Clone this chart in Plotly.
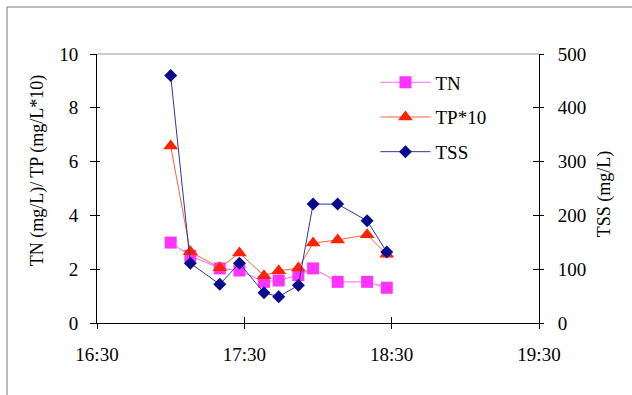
import plotly.graph_objects as go

# Sampling times and measured concentrations
times = ["17:00", "17:08", "17:20", "17:28", "17:38", "17:44",
         "17:52", "17:58", "18:08", "18:20", "18:28"]
tn = [2.99, 2.50, 2.03, 1.95, 1.53, 1.58, 1.78, 2.03, 1.53, 1.53, 1.31]
tp10 = [6.58, 2.65, 2.05, 2.60, 1.76, 1.94, 2.04, 2.97, 3.09, 3.28, 2.56]
tss = [460, 111, 72, 111, 56, 49, 70, 221, 221, 190, 132]

day = "2024-01-01 "
x = [day + t for t in times]
x_range = [day + "16:30", day + "19:30"]
hour_ms = 3600000

FONT = "Liberation Serif, Times New Roman, serif"
fs = 18
fs_tick = 19

fig = go.Figure()
fig.add_trace(go.Scatter(
    x=x, y=tn, name="TN", mode="lines+markers", legendgroup="a",
    line=dict(color="#FF66FF", width=1),
    marker=dict(symbol="square", size=12, color="#FF33FF"),
))
fig.add_trace(go.Scatter(
    x=x, y=tp10, name="TP*10", mode="lines+markers", legendgroup="b",
    line=dict(color="#FF6040", width=1),
    marker=dict(symbol="triangle-up", size=13, color="#FF2200"),
))
fig.add_trace(go.Scatter(
    x=x, y=tss, name="TSS", mode="lines+markers", legendgroup="c",
    yaxis="y2",
    line=dict(color="#3333A0", width=1),
    marker=dict(symbol="diamond", size=10, color="#0A0A8C"),
))

tickfont = dict(family=FONT, size=fs_tick, color="black")
fig.update_layout(
    width=632, height=395,
    margin=dict(l=97, r=93, t=54, b=72),
    paper_bgcolor="white", plot_bgcolor="white",
    font=dict(family=FONT, size=fs, color="black"),
    showlegend=True,
    legend=dict(
        x=0.63, y=0.965, xanchor="left", yanchor="top",
        bgcolor="rgba(0,0,0,0)", font=dict(family=FONT, size=fs_tick),
        tracegroupgap=7, itemwidth=50, traceorder="grouped",
    ),
    xaxis=dict(
        type="date", range=x_range, dtick=hour_ms, tick0=day + "16:30",
        tickformat="%H:%M", showgrid=False, zeroline=False,
        showline=True, linecolor="black", linewidth=1,
        ticks="outside", ticklen=5, tickcolor="black",
        tickfont=tickfont, ticklabelstandoff=9,
    ),
    xaxis2=dict(
        type="date", range=x_range, dtick=hour_ms, tick0=day + "16:30",
        overlaying="x", side="bottom", showgrid=False, zeroline=False,
        showticklabels=False, ticks="inside", ticklen=6, tickcolor="black",
        showline=False,
    ),
    yaxis=dict(
        range=[0, 10], dtick=2, showgrid=False, zeroline=False,
        showline=True, linecolor="black", linewidth=1,
        ticks="outside", ticklen=6, tickcolor="black",
        tickfont=tickfont, ticklabelstandoff=8,
    ),
    yaxis2=dict(
        range=[0, 500], dtick=100, overlaying="y", side="right",
        showgrid=False, zeroline=False,
        showline=True, linecolor="black", linewidth=1,
        ticks="outside", ticklen=4, tickcolor="black",
        tickfont=tickfont, ticklabelstandoff=10,
    ),
    yaxis3=dict(
        range=[0, 10], dtick=2, overlaying="y", side="left",
        showgrid=False, zeroline=False, showticklabels=False,
        ticks="inside", ticklen=3, tickcolor="black", showline=False,
    ),
    yaxis4=dict(
        range=[0, 500], dtick=100, overlaying="y", side="right",
        showgrid=False, zeroline=False, showticklabels=False,
        ticks="inside", ticklen=6, tickcolor="black", showline=False,
    ),
)

# Invisible carriers so the inner tick sets are rendered
fig.add_trace(go.Scatter(x=x_range, y=[None, None], xaxis="x2", yaxis="y3",
                         showlegend=False, hoverinfo="skip"))
fig.add_trace(go.Scatter(x=x_range, y=[None, None], xaxis="x2", yaxis="y4",
                         showlegend=False, hoverinfo="skip"))

# Axis titles
fig.add_annotation(
    text="TN (mg/L)/ TP (mg/L*10)", textangle=-90, showarrow=False,
    xref="paper", yref="paper", x=-0.135, y=0.565,
    xanchor="center", yanchor="middle", font=dict(family=FONT, size=fs),
)
fig.add_annotation(
    text="TSS (mg/L)", textangle=-90, showarrow=False,
    xref="paper", yref="paper", x=1.15, y=0.48,
    xanchor="center", yanchor="middle", font=dict(family=FONT, size=fs),
)

# Grey top edge of the plotting area and the outer chart frame
fig.add_shape(type="line", xref="paper", yref="paper", x0=0, x1=1, y0=1, y1=1,
              line=dict(color="#999999", width=1))
fig.add_shape(type="path", xref="paper", yref="paper",
              path="M -0.2036,-0.5 L -0.2036,1.1747 L 1.3,1.1747",
              line=dict(color="#777777", width=1))

fig.write_html("out.html")
